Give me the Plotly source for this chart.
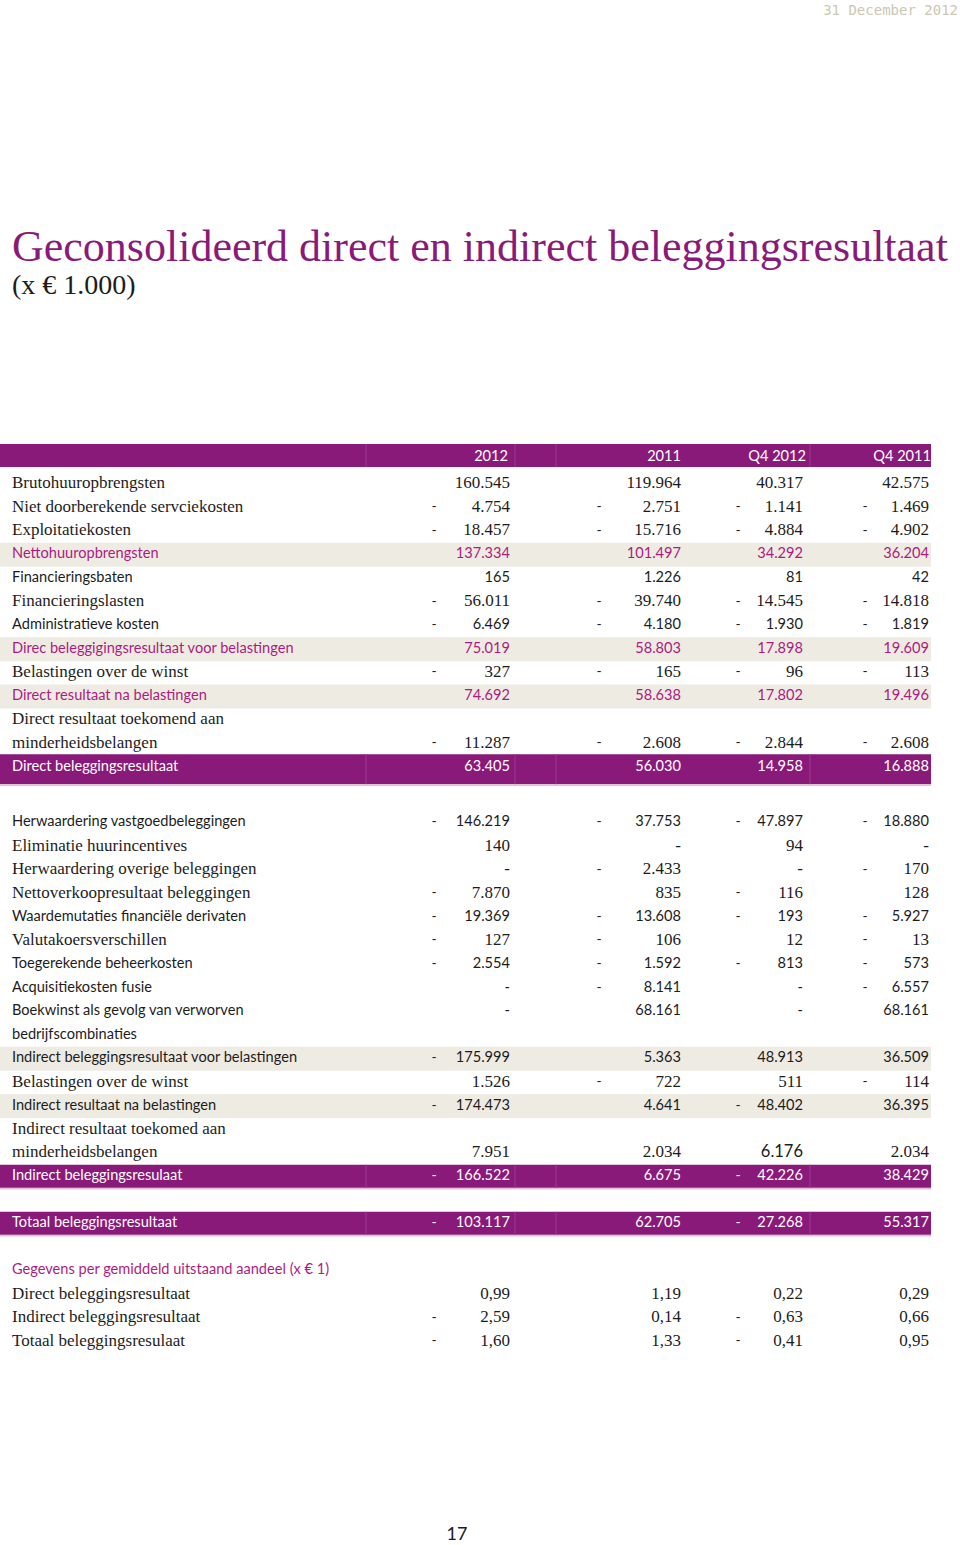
import plotly.graph_objects as go

# kleuren / fonts
PURPLE = "#8a1a7a"
PINK = "#ac1b80"
BEIGE = "#eeebe3"
INK = "#1c1c1c"
SERIF = "Liberation Serif"
SANS = "Lato"

title = "Geconsolideerd direct en indirect beleggingsresultaat"
subtitle = "(x € 1.000)"
date_txt = "31 December 2012"
page_no = "17"

columns = ["2012", "2011", "Q4 2012", "Q4 2011"]

# tabelregels (None = lege cel, 0 = '-')
labels = [
    "Brutohuuropbrengsten",
    "Niet doorberekende servciekosten",
    "Exploitatiekosten",
    "Nettohuuropbrengsten",
    "Financieringsbaten",
    "Financieringslasten",
    "Administratieve kosten",
    "Direc beleggigingsresultaat voor belastingen",
    "Belastingen over de winst",
    "Direct resultaat na belastingen",
    "Direct resultaat toekomend aan",
    "minderheidsbelangen",
    "Direct beleggingsresultaat",
    "Herwaardering vastgoedbeleggingen",
    "Eliminatie huurincentives",
    "Herwaardering overige beleggingen",
    "Nettoverkoopresultaat beleggingen",
    "Waardemutaties financiële derivaten",
    "Valutakoersverschillen",
    "Toegerekende beheerkosten",
    "Acquisitiekosten fusie",
    "Boekwinst als gevolg van verworven",
    "bedrijfscombinaties",
    "Indirect beleggingsresultaat voor belastingen",
    "Belastingen over de winst",
    "Indirect resultaat na belastingen",
    "Indirect resultaat toekomed aan",
    "minderheidsbelangen",
    "Indirect beleggingsresulaat",
    "Totaal beleggingsresultaat",
]
v2012 = [160545, -4754, -18457, 137334, 165, -56011, -6469, 75019, -327, 74692, None, -11287, 63405,
         -146219, 140, 0, -7870, -19369, -127, -2554, 0, 0, None, -175999, 1526, -174473, None, 7951, -166522,
         -103117]
v2011 = [119964, -2751, -15716, 101497, 1226, -39740, -4180, 58803, -165, 58638, None, -2608, 56030,
         -37753, 0, -2433, 835, -13608, -106, -1592, -8141, 68161, None, 5363, -722, 4641, None, 2034, 6675,
         62705]
vq4_2012 = [40317, -1141, -4884, 34292, 81, -14545, -1930, 17898, -96, 17802, None, -2844, 14958,
            -47897, 94, 0, -116, -193, 12, -813, 0, 0, None, 48913, 511, -48402, None, 6176, -42226,
            -27268]
vq4_2011 = [42575, -1469, -4902, 36204, 42, -14818, -1819, 19609, -113, 19496, None, -2608, 16888,
            -18880, 0, -170, 128, -5927, -13, -573, -6557, 68161, None, 36509, -114, 36395, None, 2034, 38429,
            55317]

# gegevens per aandeel
ps_title = "Gegevens per gemiddeld uitstaand aandeel (x € 1)"
ps_labels = ["Direct beleggingsresultaat", "Indirect beleggingsresultaat", "Totaal beleggingsresulaat"]
ps_2012 = [0.99, -2.59, -1.60]
ps_2011 = [1.19, 0.14, 1.33]
ps_q4_2012 = [0.22, -0.63, -0.41]
ps_q4_2011 = [0.29, 0.66, 0.95]

# opmaak per regel: r=serif, s=sans, p=roze subtotaal, b=zwart subtotaal, t=paarse balk
styles = ["r", "r", "r", "p", "s", "r", "s", "p", "r", "p", "r", "r", "t",
          "s", "r", "r", "r", "s", "r", "s", "s", "s", "s", "b", "r", "b", "r", "r", "t",
          "t"]
SERIF_SIZE, SANS_SIZE = 17, 14.6
font_override = {(27, 2): (SANS, 16.5)}

# ---- positie ----
Y0, STEP = 484, 23.6
extra = {13: 32, 29: 23.4, 30: 23.4}
ys = []
off = 0
for i in range(len(labels) + 1 + len(ps_labels)):
    off += extra.get(i, 0)
    ys.append(Y0 + STEP * i + off)
row_y = ys[:len(labels)]
ps_title_y = ys[len(labels)]
ps_y = ys[len(labels) + 1:]

LABEL_X = 12
val_x = [510, 681, 803, 929]
dash_x = [434, 599, 738, 865]
head_x = [508, 681, 806, 931]
TABLE_W = 931


def fmt(v):
    if v is None:
        return "", ""
    if v == 0:
        return "", "-"
    return ("-" if v < 0 else ""), f"{abs(v):,}".replace(",", ".")


def fmt_ps(v):
    return ("-" if v < 0 else ""), f"{abs(v):.2f}".replace(".", ",")


def row_font(st):
    if st == "r":
        return SERIF, SERIF_SIZE, INK
    if st == "p":
        return SANS, SANS_SIZE, PINK
    if st == "t":
        return SANS, SANS_SIZE, "white"
    return SANS, SANS_SIZE, INK


fig = go.Figure()
shapes = []

# achtergrondbalken
shapes.append(dict(type="rect", xref="x", yref="y", x0=0, x1=TABLE_W, y0=444, y1=467,
                   fillcolor=PURPLE, line_width=0, layer="below"))
for i, st in enumerate(styles):
    y = row_y[i]
    if st in ("p", "b"):
        shapes.append(dict(type="rect", xref="x", yref="y", x0=0, x1=TABLE_W, y0=y - 12, y1=y + 12,
                           fillcolor=BEIGE, line_width=0, layer="below"))
    elif st == "t":
        top, bot = (y - 13, y + 17) if i == 12 else (y - 12, y + 11)
        shapes.append(dict(type="rect", xref="x", yref="y", x0=0, x1=TABLE_W, y0=top, y1=bot,
                           fillcolor=PURPLE, line_width=0, layer="below"))
        shapes.append(dict(type="line", xref="x", yref="y", x0=0, x1=TABLE_W, y0=bot + 1, y1=bot + 1,
                           line=dict(color="#e3bfdc", width=1.5), layer="below"))
        for sx in (366, 515, 556, 810):
            shapes.append(dict(type="line", xref="x", yref="y", x0=sx, x1=sx, y0=top, y1=bot,
                               line=dict(color="#9b3a8e", width=1), layer="below"))
for sx in (366, 515, 556, 810):
    shapes.append(dict(type="line", xref="x", yref="y", x0=sx, x1=sx, y0=444, y1=467,
                       line=dict(color="#9b3a8e", width=1), layer="below"))

# kolomkoppen
fig.add_trace(go.Scatter(x=head_x, y=[457] * 4, text=columns, mode="text", textposition="middle left",
                         textfont=dict(family=SANS, size=SANS_SIZE, color="white"), hoverinfo="skip"))

# labels
fams, sizes, cols = zip(*[row_font(s) for s in styles])
fig.add_trace(go.Scatter(x=[LABEL_X] * len(labels), y=row_y, text=labels, mode="text",
                         textposition="middle right",
                         textfont=dict(family=list(fams), size=list(sizes), color=list(cols)),
                         hoverinfo="skip"))

# waarden
for c, vals in enumerate([v2012, v2011, vq4_2012, vq4_2011]):
    dashes, nums, f_fam, f_size, f_col = [], [], [], [], []
    for i, v in enumerate(vals):
        d, n = fmt(v)
        dashes.append(d)
        nums.append(n)
        fam, size, col = row_font(styles[i])
        fam, size = font_override.get((i, c), (fam, size))
        f_fam.append(fam)
        f_size.append(size)
        f_col.append(col)
    fig.add_trace(go.Scatter(x=[val_x[c]] * len(vals), y=row_y, text=nums, mode="text",
                             textposition="middle left",
                             textfont=dict(family=f_fam, size=f_size, color=f_col), hoverinfo="skip"))
    fig.add_trace(go.Scatter(x=[dash_x[c]] * len(vals), y=row_y, text=dashes, mode="text",
                             textposition="middle center",
                             textfont=dict(family=SANS, size=14, color=f_col), hoverinfo="skip"))

# per aandeel
fig.add_trace(go.Scatter(x=[LABEL_X], y=[ps_title_y], text=[ps_title], mode="text", textposition="middle right",
                         textfont=dict(family=SANS, size=SANS_SIZE, color=PINK), hoverinfo="skip"))
fig.add_trace(go.Scatter(x=[LABEL_X] * 3, y=ps_y, text=ps_labels, mode="text", textposition="middle right",
                         textfont=dict(family=SERIF, size=SERIF_SIZE, color=INK), hoverinfo="skip"))
for c, vals in enumerate([ps_2012, ps_2011, ps_q4_2012, ps_q4_2011]):
    pairs = [fmt_ps(v) for v in vals]
    fig.add_trace(go.Scatter(x=[val_x[c]] * 3, y=ps_y, text=[p[1] for p in pairs], mode="text",
                             textposition="middle left",
                             textfont=dict(family=SERIF, size=SERIF_SIZE, color=INK), hoverinfo="skip"))
    fig.add_trace(go.Scatter(x=[dash_x[c]] * 3, y=ps_y, text=[p[0] for p in pairs], mode="text",
                             textposition="middle center",
                             textfont=dict(family=SANS, size=14, color=INK), hoverinfo="skip"))

# titel, datum, paginanummer
fig.add_trace(go.Scatter(x=[LABEL_X, LABEL_X], y=[250, 287], text=[title, subtitle], mode="text",
                         textposition="middle right",
                         textfont=dict(family=SERIF, size=[44, 28], color=[PURPLE, INK]), hoverinfo="skip"))
fig.add_trace(go.Scatter(x=[958], y=[11], text=[date_txt], mode="text", textposition="middle left",
                         textfont=dict(family="DejaVu Sans Mono", size=14, color="#cdc7b2"), hoverinfo="skip"))
fig.add_trace(go.Scatter(x=[457], y=[1535], text=[page_no], mode="text", textposition="middle center",
                         textfont=dict(family=SANS, size=18, color=INK), hoverinfo="skip"))

fig.update_layout(
    width=960, height=1545,
    margin=dict(l=0, r=0, t=0, b=0),
    plot_bgcolor="white", paper_bgcolor="white",
    showlegend=False,
    shapes=shapes,
    xaxis=dict(range=[0, 960], visible=False, fixedrange=True),
    yaxis=dict(range=[1545, 0], visible=False, fixedrange=True),
)

# body-marge weg, zodat de figuur op (0,0) begint
fig.write_html("out.html", config={"displayModeBar": False},
               post_script="document.body.style.margin='0';")
